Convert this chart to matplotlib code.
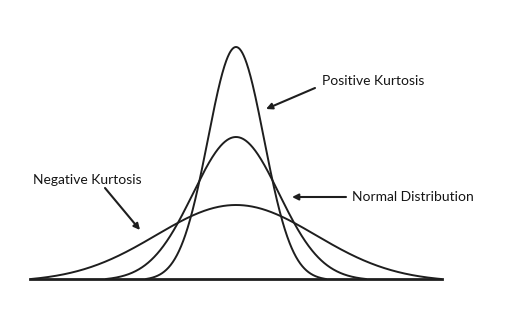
import numpy as np
import matplotlib
matplotlib.use("Agg")
import matplotlib.pyplot as plt

# Curve parameters (arbitrary units; centre at 0, baseline at 0)
curve_names = ["Positive Kurtosis", "Normal Distribution", "Negative Kurtosis"]
peak_heights = [232, 142, 74]
spreads = [28, 43, 80]
support = [90, 130, 205]

# Annotation labels: (text, text anchor x, y, arrow start, arrow end)
labels = ["Positive Kurtosis", "Normal Distribution", "Negative Kurtosis"]
label_xy = [(86, 198), (116, 82), (-203, 99)]
arrow_from = [(79, 191), (110, 82), (-131, 91)]
arrow_to = [(30, 170), (56, 82), (-96, 49)]

baseline_x = (-206, 206)

fig = plt.figure(figsize=(5.11, 3.2), dpi=100)
ax = fig.add_axes([0, 0, 1, 1])
ax.set_xlim(-236, 275)
ax.set_ylim(-41, 279)
ax.axis("off")

col = "#1e1e1e"
for h, s, L in zip(peak_heights, spreads, support):
    x = np.linspace(-L, L, 600)
    g = np.exp(-0.5 * (x / s) ** 2)
    gL = np.exp(-0.5 * (L / s) ** 2)
    y = h * (g - gL) / (1 - gL)
    ax.plot(x, y, color=col, lw=1.4, solid_capstyle="round")

ax.plot(baseline_x, [0, 0], color=col, lw=2.0)

for t, (tx, ty), a0, a1 in zip(labels, label_xy, arrow_from, arrow_to):
    ax.text(tx, ty, t, fontsize=10, family=["Lato", "DejaVu Sans"], color="#151515",
            va="center", ha="left")
    ax.annotate("", xy=a1, xytext=a0,
                arrowprops=dict(arrowstyle="-|>", color=col, lw=1.5,
                                mutation_scale=9, shrinkA=0, shrinkB=0))

fig.savefig("out.png", dpi=100, facecolor="white")
